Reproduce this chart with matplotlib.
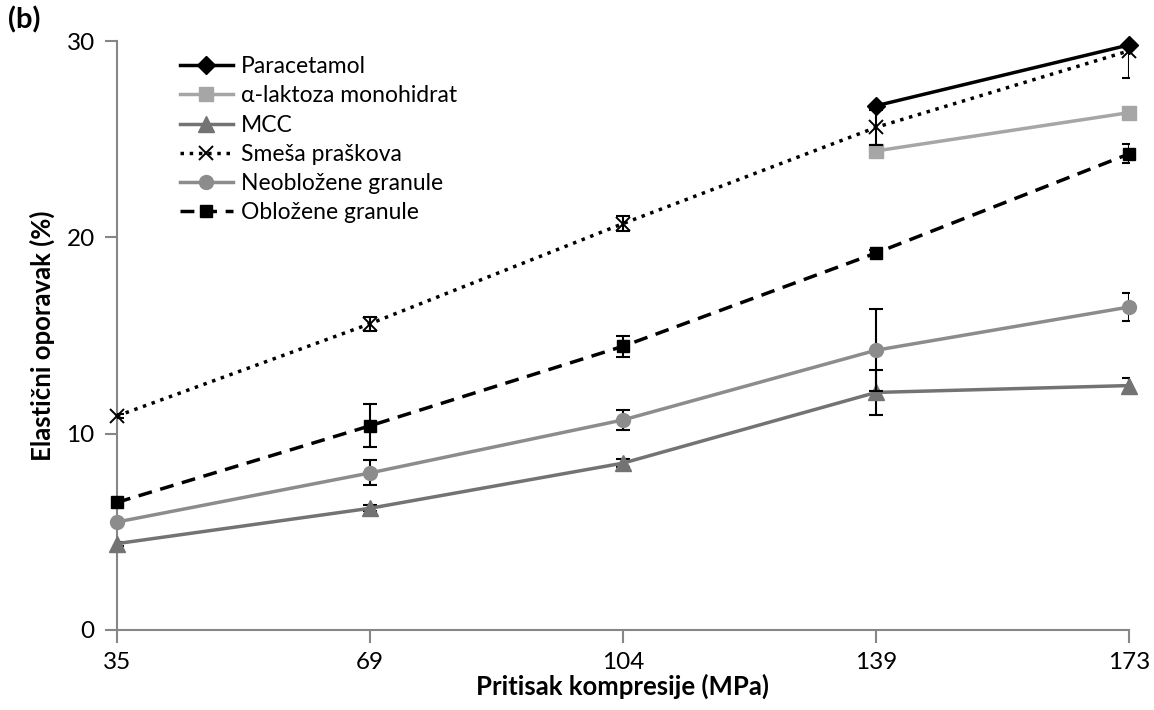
import numpy as np
import matplotlib
matplotlib.use("Agg")
import matplotlib.pyplot as plt

plt.rcParams['font.family'] = ['Lato', 'DejaVu Sans']

# Compression pressures (MPa) shown as evenly spaced categories
pressures = ['35', '69', '104', '139', '173']

nan = np.nan
paracetamol = [nan, nan, nan, 26.7, 29.8]
laktoza = [nan, nan, nan, 24.4, 26.35]
mcc = [4.4, 6.2, 8.5, 12.1, 12.45]
mcc_sd = [0.1, 0.15, 0.2, 1.15, 0.4]
smesa = [10.9, 15.6, 20.7, 25.6, 29.5]
smesa_sd = [0.1, 0.35, 0.4, 0.9, 1.4]
neoblozene = [5.5, 8.0, 10.7, 14.25, 16.45]
neoblozene_sd = [0.1, 0.64, 0.49, 2.1, 0.73]
oblozene = [6.5, 10.4, 14.45, 19.2, 24.25]
oblozene_sd = [0.1, 1.1, 0.53, 0.15, 0.48]

fig = plt.figure(figsize=(11.54, 7.10), dpi=100)
ax = fig.add_axes([117 / 1154, 80 / 710, 1012 / 1154, 589 / 710])

x = np.arange(len(pressures))

series = [
    ('Paracetamol', paracetamol, None, dict(color='black', ls='-', marker='D', ms=9, mfc='black', mec='black')),
    ('α-laktoza monohidrat', laktoza, None, dict(color='#A6A6A6', ls='-', marker='s', ms=10, mfc='#A6A6A6', mec='#A6A6A6')),
    ('MCC', mcc, mcc_sd, dict(color='#737373', ls='-', marker='^', ms=11, mfc='#737373', mec='#737373')),
    ('Smeša praškova', smesa, smesa_sd, dict(color='black', ls=':', marker='x', ms=10, mew=1.4, mfc='black', mec='black')),
    ('Neobložene granule', neoblozene, neoblozene_sd, dict(color='#8C8C8C', ls='-', marker='o', ms=10, mfc='#8C8C8C', mec='#8C8C8C')),
    ('Obložene granule', oblozene, oblozene_sd, dict(color='black', ls=(0, (4, 2.5)), marker='s', ms=9, mfc='black', mec='black')),
]

for i, (label, vals, sd, style) in enumerate(series):
    if sd is not None:
        ax.errorbar(x, vals, yerr=sd, fmt='none', ecolor='black', elinewidth=1.5,
                    capsize=5, capthick=1.5, zorder=2 + i)
    line, = ax.plot(x, vals, lw=2.5, label=label, zorder=3 + i, **style)
    line.set_clip_on(False)

ax.set_xlim(0, 4)
ax.set_ylim(0, 30)
ax.set_xticks(x)
ax.set_xticklabels(pressures)
ax.set_yticks([0, 10, 20, 30])

for side in ['top', 'right']:
    ax.spines[side].set_visible(False)
for side in ['left', 'bottom']:
    ax.spines[side].set_color('#868686')
    ax.spines[side].set_linewidth(1.5)

ax.tick_params(axis='both', direction='out', length=9, width=1.5, color='#868686',
               labelsize=17.5, pad=7)

ax.set_xlabel('Pritisak kompresije (MPa)', fontsize=18.5, fontweight='bold', labelpad=0)
ax.set_ylabel('Elastični oporavak (%)', fontsize=18.5, fontweight='bold', labelpad=8)

fig.text(8 / 1154, 1 - 20 / 710, '(b)', fontsize=21, fontweight='bold', va='center')

leg = ax.legend(loc='upper left', bbox_to_anchor=(0.053, 0.99), frameon=False,
                fontsize=16.5, handlelength=2.3, handletextpad=0.35, labelspacing=0.36,
                borderaxespad=0)

fig.savefig('out.png', dpi=100)
